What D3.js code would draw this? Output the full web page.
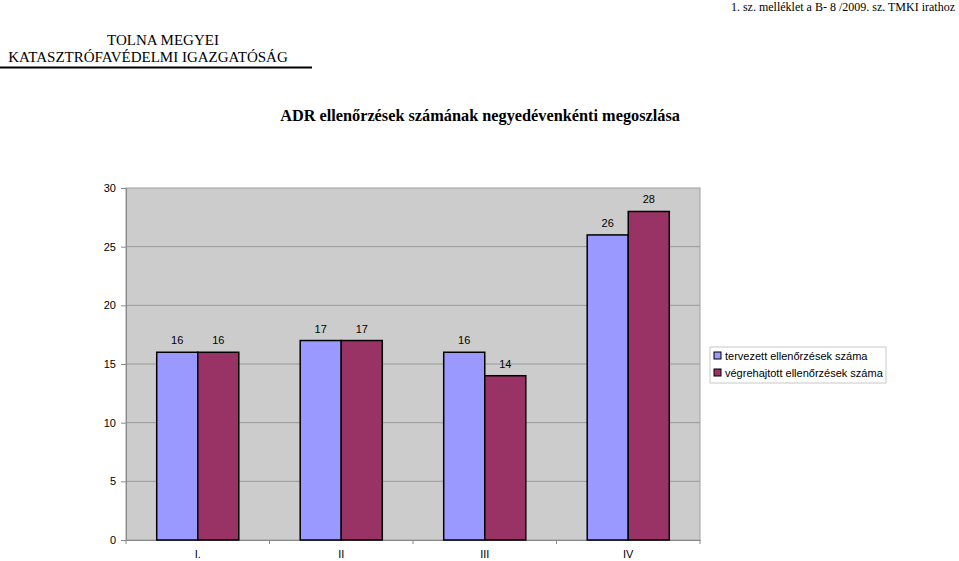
<!DOCTYPE html>
<html>
<head>
    <script src="https://d3js.org/d3.v7.min.js"></script>
    <style>
        body { margin: 0; background: #fff; }
    </style>
</head>
<body>
    <svg id="chart" width="959" height="561"></svg>
    <script>
    // chart data
    var quarters = ["I.", "II", "III", "IV"];
    var planned = [16, 17, 16, 26];
    var done = [16, 17, 14, 28];
    var seriesNames = ["tervezett ellenőrzések száma", "végrehajtott ellenőrzések száma"];
    var seriesColors = ["#9999ff", "#993366"];
    var yTicks = [0, 5, 10, 15, 20, 25, 30];

    (function(){
    var svg = d3.select("#chart");
    var serif = "'Liberation Serif', 'Times New Roman', serif";
    var sans = "'Liberation Sans', Arial, sans-serif";

    // header texts
    svg.append("text").attr("x", 955).attr("y", 11).attr("text-anchor", "end")
        .style("font-family", serif).style("font-size", "12px").text("1. sz. melléklet a B- 8 /2009. sz. TMKI irathoz");
    svg.append("text").attr("x", 163).attr("y", 45).attr("text-anchor", "middle")
        .style("font-family", serif).style("font-size", "15px").text("TOLNA MEGYEI");
    svg.append("text").attr("x", 148).attr("y", 62).attr("text-anchor", "middle")
        .style("font-family", serif).style("font-size", "15px").text("KATASZTRÓFAVÉDELMI IGAZGATÓSÁG");
    svg.append("line").attr("x1", 0).attr("x2", 312).attr("y1", 67.5).attr("y2", 67.5)
        .attr("stroke", "#000").attr("stroke-width", 2);
    svg.append("text").attr("x", 480).attr("y", 121).attr("text-anchor", "middle")
        .style("font-family", serif).style("font-size", "16.3px").style("font-weight", "bold")
        .text("ADR ellenőrzések számának negyedévenkénti megoszlása");

    // plot area
    var left = 126, right = 700, plotTop = 188, bottom = 540;
    var x = d3.scaleBand().domain(quarters).range([left, right]);
    var y = d3.scaleLinear().domain([0, 30]).range([bottom, plotTop]);
    var barW = x.bandwidth() * 0.286;
    var gap = (x.bandwidth() - 2 * barW) / 2;

    svg.append("rect").attr("x", left).attr("y", plotTop).attr("width", right - left).attr("height", bottom - plotTop)
        .attr("fill", "#cccccc").attr("stroke", "#a0a0a0");

    // gridlines
    svg.append("g").selectAll("line").data(yTicks.slice(1, -1)).join("line")
        .attr("x1", left).attr("x2", right)
        .attr("y1", function(d){return y(d);}).attr("y2", function(d){return y(d);})
        .attr("stroke", "#999999");

    // y axis
    var yAxis = svg.append("g").attr("transform", "translate(" + left + ",0)")
        .call(d3.axisLeft(y).tickValues(yTicks).tickSize(5).tickPadding(5));
    yAxis.select(".domain").attr("stroke", "#888");
    yAxis.selectAll(".tick line").attr("stroke", "#888");
    yAxis.selectAll("text").style("font-family", sans).style("font-size", "11px").attr("fill", "#000");

    // x axis
    var xAxis = svg.append("g").attr("transform", "translate(0," + bottom + ")")
        .call(d3.axisBottom(x).tickSize(0).tickPadding(10));
    xAxis.select(".domain").attr("stroke", "#888");
    xAxis.selectAll("text").style("font-family", sans).style("font-size", "11px").attr("fill", "#000");
    svg.append("g").selectAll("line").data(d3.range(quarters.length + 1)).join("line")
        .attr("x1", function(i){return left + i * x.step();}).attr("x2", function(i){return left + i * x.step();})
        .attr("y1", bottom).attr("y2", bottom + 4).attr("stroke", "#888");

    // bars
    var series = [planned, done];
    series.forEach(function(vals, s){
        var g = svg.append("g");
        g.selectAll("rect").data(vals).join("rect")
            .attr("x", function(d, i){return x(quarters[i]) + gap + s * barW;})
            .attr("y", function(d){return y(d);})
            .attr("width", barW)
            .attr("height", function(d){return bottom - y(d);})
            .attr("fill", seriesColors[s]).attr("stroke", "#000").attr("stroke-width", 1.5);
        g.selectAll("text").data(vals).join("text")
            .attr("x", function(d, i){return x(quarters[i]) + gap + s * barW + barW / 2;})
            .attr("y", function(d){return y(d) - 8;})
            .attr("text-anchor", "middle")
            .style("font-family", sans).style("font-size", "11px")
            .text(function(d){return d;});
    });

    // legend
    var lg = svg.append("g").attr("transform", "translate(710,347)");
    lg.append("rect").attr("width", 176).attr("height", 36).attr("fill", "#fff").attr("stroke", "#c8c8c8");
    seriesNames.forEach(function(name, i){
        lg.append("rect").attr("x", 4).attr("y", 5 + i * 17).attr("width", 7).attr("height", 7)
            .attr("fill", seriesColors[i]).attr("stroke", "#000");
        lg.append("text").attr("x", 15).attr("y", 13 + i * 17)
            .style("font-family", sans).style("font-size", "11px").text(name);
    });
    })();
    </script>
</body>
</html>
